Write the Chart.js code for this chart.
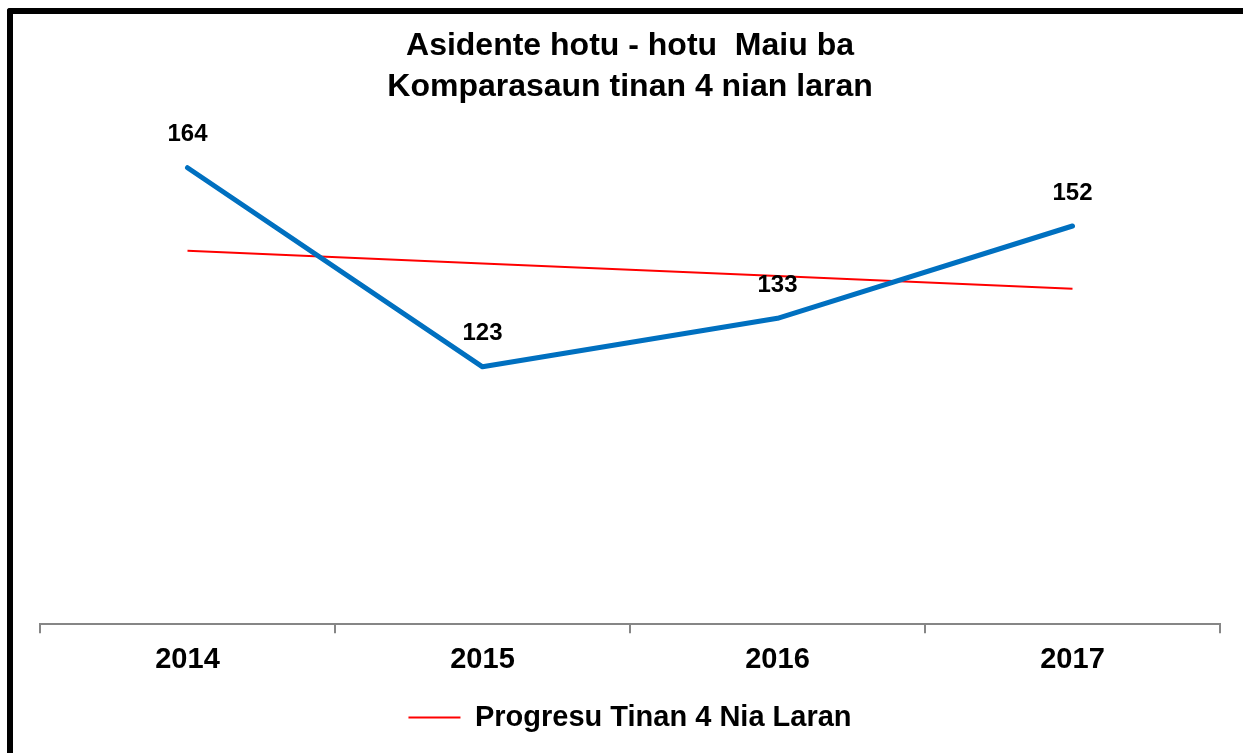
<!DOCTYPE html>
<html>
<head>
<meta charset="utf-8">
<script src="https://cdn.jsdelivr.net/npm/chart.js@4.4.1/dist/chart.umd.min.js"></script>
<style>
  html, body { margin: 0; padding: 0; background: #ffffff; overflow: hidden; }
  #wrap { position: relative; width: 1243px; height: 753px; }
  #frame { position: absolute; left: 7px; top: 8px; width: 1300px; height: 800px;
           border-left: 6px solid #000; border-top: 6px solid #000; border-radius: 3px 0 0 0; box-sizing: border-box; }
  canvas { position: absolute; left: 0; top: 0; }
</style>
</head>
<body>
<div id="wrap">
  <canvas id="c" width="1243" height="753"></canvas>
  <div id="frame"></div>
</div>
<script>
const categories = ['2014', '2015', '2016', '2017'];
const accidents = [164, 123, 133, 152];
const trend = [146.9, 144.3, 141.7, 139.1];
const titleLines = ['Asidente hotu - hotu  Maiu ba', 'Komparasaun tinan 4 nian laran'];
const trendLabel = 'Progresu Tinan 4 Nia Laran';

const FONT = "'Liberation Sans', Arial, sans-serif";

const valueLabels = {
  id: 'valueLabels',
  afterDatasetsDraw(chart) {
    const meta = chart.getDatasetMeta(0);
    const ctx = chart.ctx;
    ctx.save();
    ctx.font = 'bold 24px ' + FONT;
    ctx.fillStyle = '#000';
    ctx.textAlign = 'center';
    ctx.textBaseline = 'middle';
    meta.data.forEach((pt, i) => {
      ctx.fillText(String(accidents[i]), pt.x, pt.y - 33);
    });
    ctx.restore();
  }
};

new Chart(document.getElementById('c'), {
  type: 'line',
  data: {
    labels: categories,
    datasets: [
      { label: 'Asidente', data: accidents, borderColor: '#0070C0', borderWidth: 5,
        pointRadius: 0, tension: 0, fill: false, borderJoinStyle: 'round', borderCapStyle: 'round' },
      { label: trendLabel, data: trend, borderColor: '#FF0000', backgroundColor: '#FF0000', borderWidth: 2,
        pointRadius: 0, tension: 0, fill: false }
    ]
  },
  options: {
    responsive: false,
    animation: false,
    layout: { padding: { left: 40, right: 23, top: 0, bottom: 11 } },
    plugins: {
      title: {
        display: true, text: titleLines, color: '#000',
        font: { family: FONT, size: 32, weight: 'bold', lineHeight: 41 / 32 },
        padding: { top: 26, bottom: 0 }
      },
      legend: {
        position: 'bottom',
        labels: {
          color: '#000',
          font: { family: FONT, size: 29, weight: 'bold' },
          boxWidth: 52, boxHeight: 2,
          padding: 17,
          filter: (item) => item.datasetIndex === 1,
          generateLabels: (chart) => [{
            text: trendLabel, fillStyle: '#FF0000', strokeStyle: '#FF0000', lineWidth: 0,
            datasetIndex: 1, hidden: false
          }]
        }
      },
      tooltip: { enabled: false }
    },
    scales: {
      x: {
        offset: true,
        grid: { display: true, drawOnChartArea: false, drawTicks: true, tickLength: 9, color: '#868686', lineWidth: 2, offset: true },
        border: { display: true, color: '#868686', width: 2 },
        ticks: { color: '#000', font: { family: FONT, size: 29, weight: 'bold' }, padding: 9, maxRotation: 0 }
      },
      y: {
        display: false,
        min: 70, max: 176.3
      }
    }
  },
  plugins: [valueLabels]
});
</script>
</body>
</html>
